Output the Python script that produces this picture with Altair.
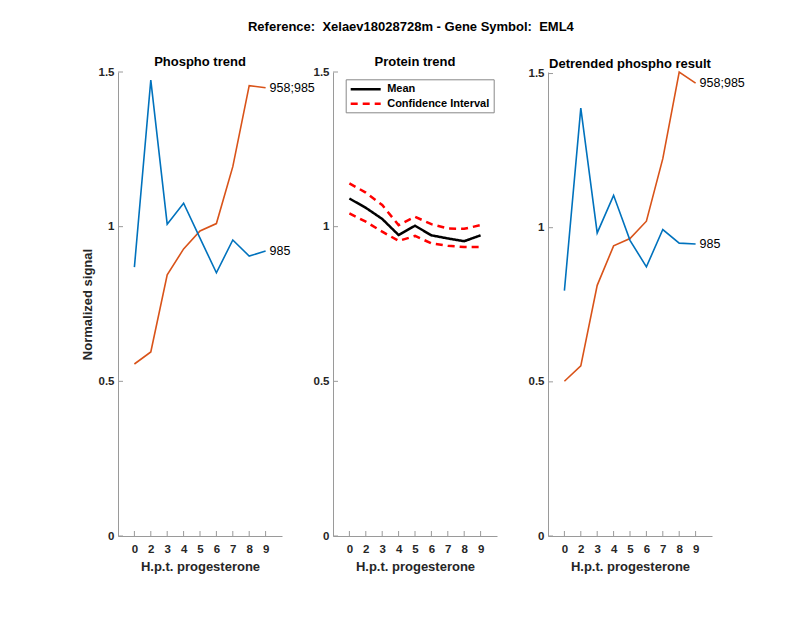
import altair as alt
import pandas as pd

hpt = ["0", "2", "3", "4", "5", "6", "7", "8", "9"]
phospho_958_985 = [0.556, 0.595, 0.844, 0.928, 0.986, 1.010, 1.194, 1.456, 1.449]
phospho_985 = [0.869, 1.474, 1.008, 1.076, 0.963, 0.851, 0.957, 0.905, 0.921]
protein_mean = [1.091, 1.061, 1.025, 0.973, 1.003, 0.972, 0.962, 0.953, 0.972]
ci_upper = [1.140, 1.110, 1.070, 1.005, 1.032, 1.008, 0.994, 0.993, 1.005]
ci_lower = [1.043, 1.016, 0.984, 0.954, 0.970, 0.946, 0.938, 0.934, 0.934]
detr_958_985 = [0.502, 0.552, 0.813, 0.941, 0.965, 1.021, 1.224, 1.505, 1.469]
detr_985 = [0.796, 1.388, 0.983, 1.105, 0.959, 0.873, 0.994, 0.950, 0.947]
y_ticks = [0, 0.5, 1, 1.5]
series_names = ["958;985", "985"]
series_colors = ["#D95319", "#0072BD"]
legend_names = ["Mean", "Confidence Interval"]

FONT = "Liberation Sans"
W, H = 164, 464
AXIS_GRAY = "#9a9a9a"
NB = "\u00a0"


def long_df(series):
    rows = []
    for name, vals in series.items():
        for h, v in zip(hpt, vals):
            rows.append({"hpt": h, "value": v, "series": name})
    return pd.DataFrame(rows)


def xenc():
    return alt.X("hpt:O", sort=hpt,
                 scale=alt.Scale(type="point", padding=1),
                 axis=alt.Axis(title="H.p.t. progesterone", labelAngle=0,
                               tickSize=0, labelPadding=7, titlePadding=6))


def yenc(domain, title=None):
    if title:
        ax = alt.Axis(values=y_ticks, format="~g", tickSize=0, labelPadding=4,
                      grid=False, title=title)
    else:
        ax = alt.Axis(values=y_ticks, format="~g", tickSize=0, labelPadding=4,
                      grid=False, title=None)
    return alt.Y("value:Q", scale=alt.Scale(domain=domain, nice=False, zero=True),
                 axis=ax)


def tick_layers(domain):
    xt = alt.Chart(pd.DataFrame({"hpt": hpt})).mark_rule(
        color=AXIS_GRAY, strokeWidth=1).encode(
        x=alt.X("hpt:O", sort=hpt, scale=alt.Scale(type="point", padding=1)),
        y=alt.value(H), y2=alt.value(H - 5))
    yt = alt.Chart(pd.DataFrame({"value": y_ticks})).mark_rule(
        color=AXIS_GRAY, strokeWidth=1).encode(
        y=alt.Y("value:Q", scale=alt.Scale(domain=domain, nice=False)),
        x=alt.value(0), x2=alt.value(5))
    return [xt, yt]


def panel_title(text):
    return alt.TitleParams(text, fontSize=13, fontWeight="bold", font=FONT,
                           offset=-3, color="#000000")


def phospho_panel(vals_958, vals_985, title, domain, ytitle=None):
    df = long_df({"958;985": vals_958, "985": vals_985})
    color = alt.Color("series:N", scale=alt.Scale(domain=series_names, range=series_colors),
                      legend=None)
    lines = alt.Chart(df).mark_line(strokeWidth=1.6, clip=False).encode(
        x=xenc(), y=yenc(domain, ytitle), color=color, detail="series:N")
    last = df[df["hpt"] == hpt[-1]]
    labels = alt.Chart(last).mark_text(
        align="left", baseline="middle", dx=4, fontSize=12.5, font=FONT,
        color="#000000", fontWeight="normal").encode(
        x=alt.X("hpt:O", sort=hpt, scale=alt.Scale(type="point", padding=1)),
        y=alt.Y("value:Q", scale=alt.Scale(domain=domain, nice=False)),
        text="series:N")
    return alt.layer(lines, labels, *tick_layers(domain)).properties(
        width=W, height=H, title=panel_title(title))


def protein_panel():
    rows = []
    for kind, part, vals in [("Mean", "mean", protein_mean),
                             ("Confidence Interval", "upper", ci_upper),
                             ("Confidence Interval", "lower", ci_lower)]:
        for h, v in zip(hpt, vals):
            rows.append({"hpt": h, "value": v, "kind": kind, "part": part})
    df = pd.DataFrame(rows)
    domain = [0, 1.5]
    leg = alt.Legend(title=None, orient="none", legendX=12.7, legendY=7.3,
                     symbolType="M-1,0H5", symbolStrokeWidth=2.5,
                     symbolSize=100, labelFont=FONT, labelFontSize=11,
                     labelFontWeight="bold", labelColor="#000000",
                     fillColor="#ffffff", strokeColor="#888888",
                     padding=3.5, rowPadding=2.5, labelOffset=25,
                     cornerRadius=0)
    lines = alt.Chart(df).mark_line(strokeWidth=2.5).encode(
        x=xenc(), y=yenc(domain),
        color=alt.Color("kind:N",
                        scale=alt.Scale(domain=legend_names,
                                        range=["#000000", "#FF0000"]),
                        legend=leg),
        strokeDash=alt.StrokeDash("kind:N",
                                  scale=alt.Scale(domain=legend_names,
                                                  range=[[1, 0], [7, 5]]),
                                  legend=leg),
        detail="part:N")
    return alt.layer(lines, *tick_layers(domain)).properties(
        width=W, height=H, title=panel_title("Protein trend"))


p1 = phospho_panel(phospho_958_985, phospho_985, "Phospho trend", [0, 1.5],
                   ytitle="Normalized signal")
p2 = protein_panel()
p3 = phospho_panel(detr_958_985, detr_985, "Detrended phospho result", [0, 1.505])

main_title = "Reference:" + NB + " Xelaev18028728m - Gene Symbol:" + NB + " EML4"

chart = alt.hconcat(p1, p2, p3, spacing=51, bounds="flush").resolve_scale(
    color="independent", strokeDash="independent", y="independent", x="independent"
).properties(
    title=alt.TitleParams(main_title, fontSize=13, fontWeight="bold", font=FONT,
                          color="#000000", anchor="middle", offset=22, dx=-2),
    padding={"left": 73, "top": 13, "right": 40, "bottom": 30},
    background="#ffffff",
).configure_view(stroke=None).configure_axis(
    labelFont=FONT, labelFontSize=11.5, labelFontWeight="bold", labelColor="#262626",
    titleFont=FONT, titleFontSize=13, titleFontWeight="bold", titleColor="#262626",
    domainColor=AXIS_GRAY, domainWidth=1, grid=False, titlePadding=4
)

chart.save("out.html", embed_options={"renderer": "svg", "actions": False})
